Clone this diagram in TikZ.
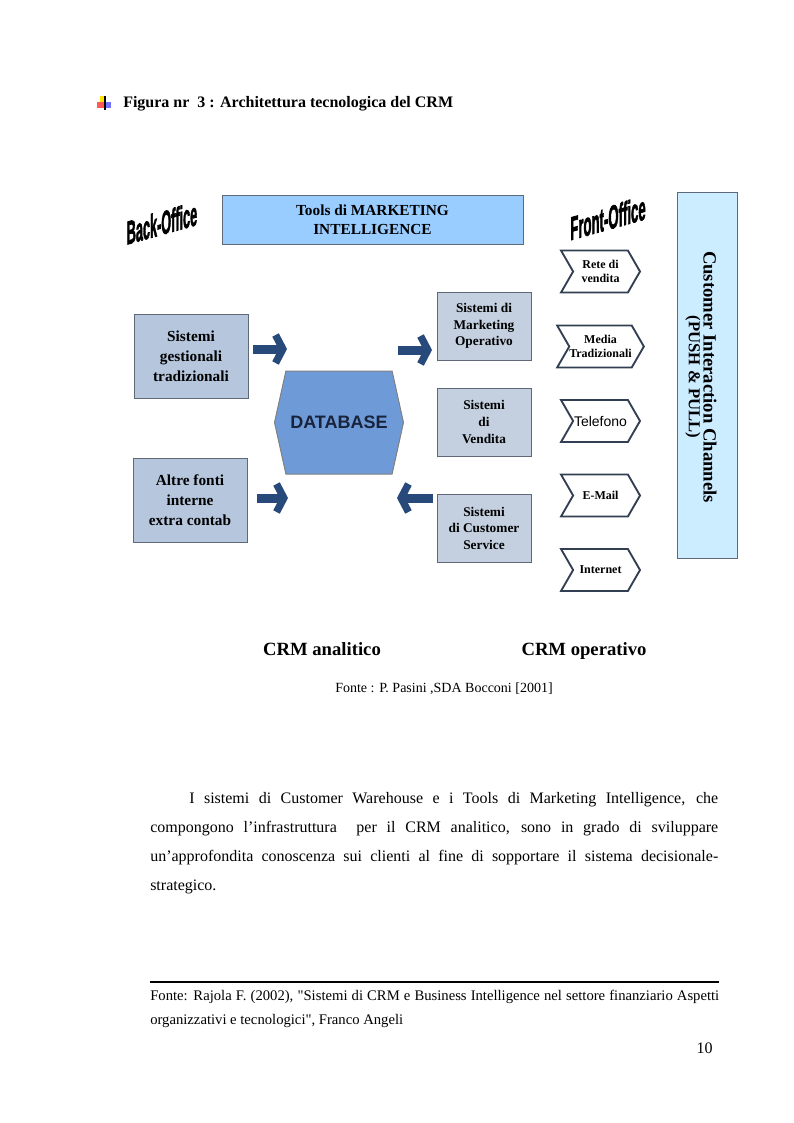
\documentclass[tikz,border=0pt]{standalone}
\usepackage{fontspec}
\setmainfont{Liberation Serif}
\newfontfamily\arialfont{Liberation Sans}
\newfontfamily\quotefont{Liberation Serif}[Ligatures=TeXOff]
\newfontface\impactfont{Liberation Sans Bold}[FakeBold=2.5]
\usetikzlibrary{shapes.symbols,arrows.meta}

\definecolor{toolsblue}{RGB}{153,204,255}
\definecolor{chanblue}{RGB}{204,236,255}
\definecolor{sysgray}{RGB}{181,198,221}
\definecolor{sysgraylt}{RGB}{196,208,224}
\definecolor{sysedge}{RGB}{95,105,120}
\definecolor{dbblue}{RGB}{110,155,216}
\definecolor{dbtext}{RGB}{25,35,60}
\definecolor{arrowblue}{RGB}{40,74,122}
\definecolor{chanedge}{RGB}{50,62,82}

\newcommand{\dq}{{\quotefont"}}

\tikzset{
  leftsys/.style={draw=sysedge, line width=0.75pt, fill=sysgray, align=center, inner sep=0pt,
    minimum width=85.5pt, minimum height=63pt, font=\bfseries\fontsize{11.5}{15}\selectfont},
  rightsys/.style={leftsys, fill=sysgraylt, minimum width=70.5pt, minimum height=51pt,
    font=\bfseries\fontsize{10}{12.4}\selectfont},
  channel/.style={shape=signal, signal from=west, signal to=east, signal pointer angle=120,
    draw=chanedge, line width=1.4pt, fill=white, inner sep=0pt, minimum width=59.25pt,
    minimum height=31.5pt, align=center, font=\bfseries\fontsize{9}{11}\selectfont},
  fatarrow/.style={draw=arrowblue, line width=6.75pt,
    -{Straight Barb[length=5.5pt,width=21pt,line width=5.5pt]}},
  wordart/.style={font=\impactfont\fontsize{19}{19}\selectfont, inner sep=0pt},
}

\begin{document}
\begin{tikzpicture}[x=0.75pt, y=-0.75pt]
  \useasboundingbox (0,0) rectangle (793,1123);

  % bullet and title
  \fill[yellow!85!orange] (100,96) rectangle (106,103);
  \fill[red!65] (97,102) rectangle (104,108);
  \fill[blue!55] (105,102) rectangle (111,108);
  \draw[line width=0.9pt] (105,96) -- (105,110);
  \node[anchor=base west, inner sep=0pt, font=\bfseries\fontsize{12}{14}\selectfont] (title)
    at (123,108) {Figura nr\ \ 3 : Architettura tecnologica del CRM};

  % top row
  \node[wordart, yslant=0.28] (back) at (162,223) {\scalebox{0.5}[1.3]{Back-Office}};
  \node[draw=sysedge, line width=0.75pt, fill=toolsblue, minimum width=225.75pt, minimum height=36pt,
    inner sep=0pt, align=center, font=\bfseries\fontsize{11.5}{14.25}\selectfont] (tools)
    at (372.5,220) {Tools di MARKETING\\INTELLIGENCE};
  \node[wordart, yslant=0.28] (front) at (608,218) {\scalebox{0.52}[1.3]{Front-Office}};

  % back office sources
  \node[leftsys] (gest) at (191,356) {Sistemi\\gestionali\\tradizionali};
  \node[leftsys] (altre) at (190,500) {Altre fonti\\interne\\extra contab};

  % database
  \node[shape=signal, signal to=east and west, signal pointer angle=155, draw=gray,
    line width=0.75pt, fill=dbblue, inner sep=0pt, minimum width=96.75pt, minimum height=77.25pt,
    text=dbtext, font=\arialfont\bfseries\fontsize{13.5}{13.5}\selectfont] (db)
    at (339,422.5) {DATABASE};

  % operative systems
  \node[rightsys] (mkt) at (484,326) {Sistemi di\\Marketing\\Operativo};
  \node[rightsys] (vend) at (484,422) {Sistemi\\di\\Vendita};
  \node[rightsys] (serv) at (484,528) {Sistemi\\di Customer\\Service};

  % block arrows
  \coordinate (a1) at (253,349); \coordinate (a2) at (287,349);
  \coordinate (b1) at (398,350); \coordinate (b2) at (432,350);
  \coordinate (c1) at (257,498); \coordinate (c2) at (288,498);
  \coordinate (d1) at (433,498); \coordinate (d2) at (397,498);
  \draw[fatarrow] (a1) -- (a2);
  \draw[fatarrow] (b1) -- (b2);
  \draw[fatarrow] (c1) -- (c2);
  \draw[fatarrow] (d1) -- (d2);

  % front office channels
  \node[channel] (rete) at (600.5,271.5) {Rete di\\vendita};
  \node[channel] (media) at (600.5,346.5) {Media\\Tradizionali};
  \node[channel, font=\arialfont\fontsize{10.5}{12}\selectfont] (tel) at (600.5,421) {Telefono};
  \node[channel] (mail) at (600.5,495.5) {E-Mail};
  \node[channel] (web) at (600.5,570) {Internet};

  \node[draw=sysedge, line width=0.75pt, fill=chanblue, minimum width=45pt, minimum height=274.5pt]
    (chan) at (707.5,375.5) {};
  \node[rotate=-90, inner sep=0pt, align=center, font=\bfseries\fontsize{14}{11}\selectfont]
    (chantext) at (701,377) {Customer Interaction Channels\\{\fontsize{12.5}{11}\selectfont (PUSH \& PULL)}};

  % captions
  \node[anchor=base, inner sep=0pt, font=\bfseries\fontsize{14}{16}\selectfont] (ana) at (322,655) {CRM analitico};
  \node[anchor=base, inner sep=0pt, font=\bfseries\fontsize{14}{16}\selectfont] (oper) at (584,655) {CRM operativo};
  \node[anchor=base, inner sep=0pt, font=\fontsize{10.5}{12}\selectfont] (fonte) at (444,692)
    {Fonte : P. Pasini ,SDA Bocconi [2001]};

  % body text
  \node[anchor=base west, inner sep=0pt, text width=426pt, align=justify,
    font=\fontsize{12}{21.75}\selectfont] (body) at (150,803)
    {\hspace*{29.25pt}I sistemi di Customer Warehouse e i Tools di Marketing Intelligence, che\linebreak
     compongono l'infrastruttura\ \ per il CRM analitico, sono in grado di sviluppare\linebreak
     un'approfondita conoscenza sui clienti al fine di sopportare il sistema decisionale-\linebreak
     strategico.};

  % footnote
  \coordinate (r1) at (150,982); \coordinate (r2) at (719,982);
  \draw[line width=1.1pt] (r1) -- (r2);
  \node[anchor=base west, inner sep=0pt, text width=426.75pt, align=justify,
    font=\fontsize{11}{18}\selectfont] (note) at (150,1000)
    {Fonte: Rajola F. (2002), \dq Sistemi di CRM e Business Intelligence nel settore finanziario Aspetti\linebreak
     organizzativi e tecnologici\dq, Franco Angeli};
  \node[anchor=base east, inner sep=0pt, font=\fontsize{12}{14}\selectfont] (page) at (713,1053) {10};
\end{tikzpicture}
\end{document}
